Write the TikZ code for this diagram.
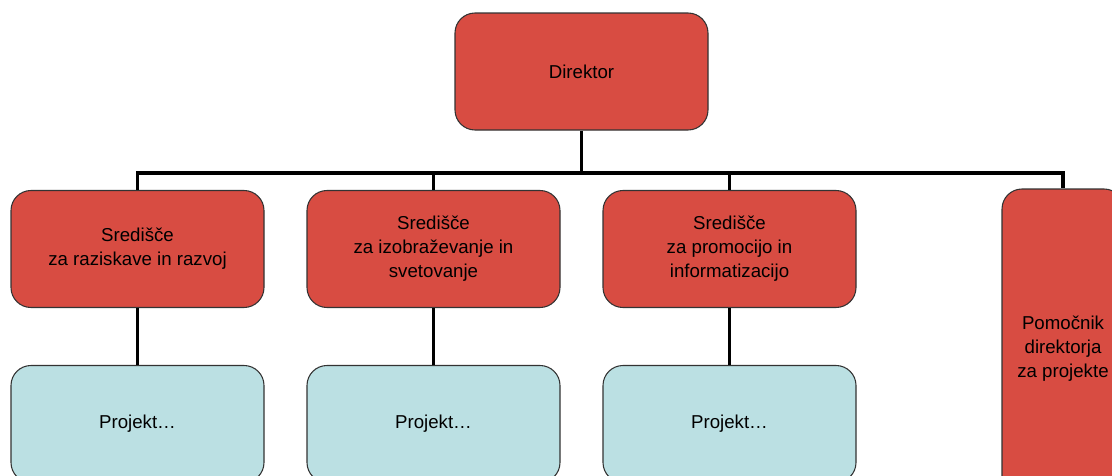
\documentclass[tikz,border=0pt]{standalone}
\usepackage{fontspec}
\setmainfont{Liberation Sans}
\usepackage{tikz}
\usetikzlibrary{positioning}
\definecolor{boxred}{RGB}{216,76,66}
\definecolor{boxblue}{RGB}{187,224,227}
\tikzset{
  unit/.style={draw=black!80, line width=0.8pt, rounded corners=15pt, align=center,
    font=\fontsize{14}{18}\selectfont, inner sep=2pt},
  centre/.style={unit, fill=boxred, minimum width=189.75pt, minimum height=87.75pt},
  projekt/.style={unit, fill=boxblue, minimum width=189.75pt, minimum height=87.75pt},
  conn/.style={line width=2.4pt}
}
\begin{document}
\begin{tikzpicture}[x=0.75pt,y=-0.75pt]
\useasboundingbox (0,0) rectangle (1112,475);
\clip (0,0) rectangle (1112,475);
\node[centre] (dir) at (581.5,71.5) {Direktor};
\node[centre] (sr1) at (137.5,249) {Središče\\za raziskave in razvoj};
\node[centre] (sr2) at (433.5,249) {Središče\\za izobraževanje in\\svetovanje};
\node[centre] (sr3) at (729.5,249) {Središče\\za promocijo in\\informatizacijo};
\node[unit, fill=boxred, minimum width=91.5pt, minimum height=240pt] (pom) at (1063,349) {Pomočnik\\direktorja\\za projekte};
\node[projekt] (pr1) at (137.5,424) {Projekt…};
\node[projekt] (pr2) at (433.5,424) {Projekt…};
\node[projekt] (pr3) at (729.5,424) {Projekt…};
\coordinate (bar) at (581.5,173);
% connectors
\draw[conn] (dir.south) -- (bar) -| (sr1.north);
\draw[conn] (bar) -| (sr2.north);
\draw[conn] (bar) -| (sr3.north);
\draw[conn] (bar) -| (pom.north);
\draw[conn] (sr1) -- (pr1);
\draw[conn] (sr2) -- (pr2);
\draw[conn] (sr3) -- (pr3);
\end{tikzpicture}
\end{document}
